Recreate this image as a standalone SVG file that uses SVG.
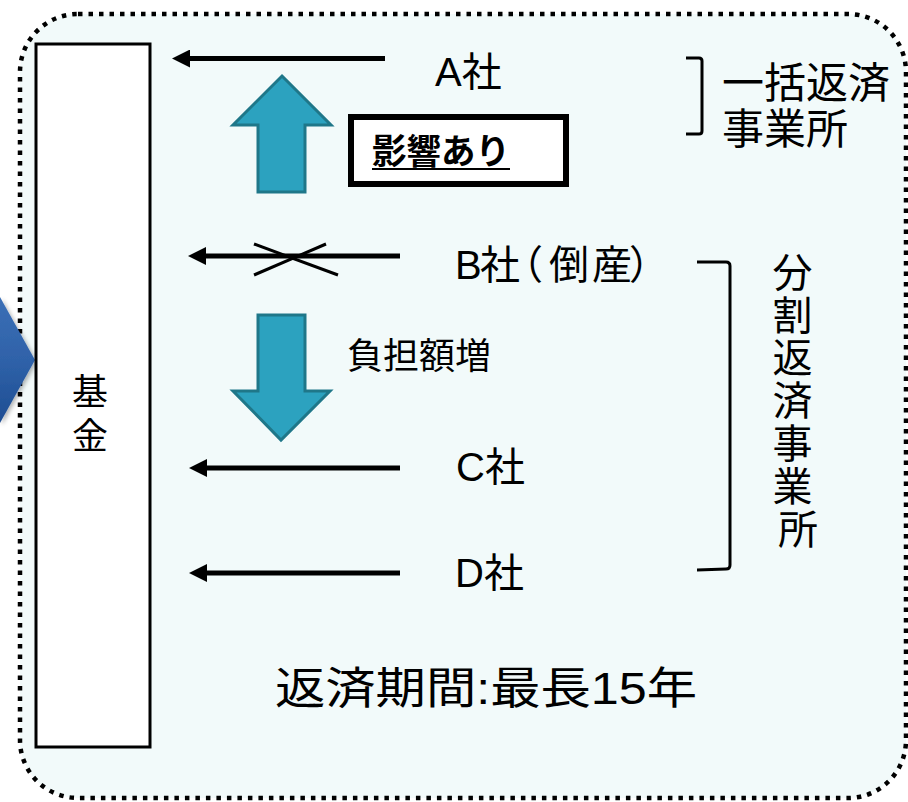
<svg xmlns="http://www.w3.org/2000/svg" width="908" height="802" viewBox="0 0 908 802">
  <style>
    .t { font-family: "Liberation Sans", "Noto Sans CJK JP", sans-serif; fill: #000; }
    .conn { stroke: #000; stroke-width: 5; fill: none; }
    .cross { stroke: #000; stroke-width: 3; fill: none; }
    .brk { stroke: #000; stroke-width: 3; fill: none; stroke-linejoin: round; }
    .teal { fill: #2ca2bf; stroke: #1f7789; stroke-width: 3; stroke-linejoin: miter; }
  </style>
  <defs>
    <marker id="ah" markerUnits="userSpaceOnUse" markerWidth="18" markerHeight="18" refX="8" refY="9" orient="auto">
      <path d="M0,0 L18,9 L0,18 Z" fill="#000"/>
    </marker>
    <linearGradient id="blueg" x1="0" y1="0" x2="0" y2="1">
      <stop offset="0" stop-color="#3b6fb6"/>
      <stop offset="0.5" stop-color="#2f62a9"/>
      <stop offset="1" stop-color="#1e4d92"/>
    </linearGradient>
    <filter id="sh" x="-50%" y="-50%" width="200%" height="200%">
      <feDropShadow dx="2" dy="2" stdDeviation="2" flood-color="#000" flood-opacity="0.3"/>
    </filter>
  </defs>

  <rect x="0" y="0" width="908" height="802" fill="#ffffff"/>

  <g id="frame">
    <rect x="20" y="14" width="886" height="784" rx="58" ry="58" fill="#f2fafa" stroke="#000" stroke-width="4.5" stroke-dasharray="4.5 6"/>
  </g>

  <g id="left-arrow">
    <polygon points="0,297 35,360 0,423" fill="url(#blueg)" filter="url(#sh)"/>
  </g>

  <g id="fund">
    <rect x="36" y="44" width="114" height="703" fill="#ffffff" stroke="#000" stroke-width="3"/>
    <text class="t" font-size="36" text-anchor="middle"><tspan x="90" y="405">基</tspan><tspan x="90" y="449">金</tspan></text>
  </g>

  <g id="connectors">
    <line class="conn" x1="385" y1="58.5" x2="182" y2="58.5" marker-end="url(#ah)"/>
    <line class="conn" x1="400" y1="256" x2="198" y2="256" marker-end="url(#ah)"/>
    <line class="cross" x1="254" y1="244" x2="338" y2="275"/>
    <line class="cross" x1="254" y1="275" x2="326" y2="244"/>
    <line class="conn" x1="400" y1="468" x2="199" y2="468" marker-end="url(#ah)"/>
    <line class="conn" x1="400" y1="573" x2="199" y2="573" marker-end="url(#ah)"/>
  </g>

  <g id="companyA">
    <text class="t" x="435" y="86" font-size="40">A社</text>
  </g>
  <g id="companyB">
    <text class="t" x="455 480 503 549 592 629" y="279" font-size="40">B社（倒産）</text>
  </g>
  <g id="companyC">
    <text class="t" x="456" y="481" font-size="40">C社</text>
  </g>
  <g id="companyD">
    <text class="t" x="455" y="587" font-size="40">D社</text>
  </g>

  <g id="up-arrow">
    <polygon class="teal" points="282,76 331,125 305,125 305,192 258,192 258,125 233,125"/>
  </g>

  <g id="impact">
    <rect x="351" y="117" width="215" height="67" fill="#ffffff" stroke="#000" stroke-width="6"/>
    <text class="t" x="372" y="164" font-size="35" font-weight="bold" textLength="138" lengthAdjust="spacingAndGlyphs">影響あり</text>
    <line x1="372" y1="169" x2="510" y2="169" stroke="#000" stroke-width="2"/>
  </g>

  <g id="down-arrow">
    <polygon class="teal" points="258,315 305,315 305,391 330,391 281,440 233,391 258,391"/>
  </g>

  <g id="burden">
    <text class="t" x="347" y="369" font-size="36">負担額増</text>
  </g>

  <g id="lump-sum">
    <path class="brk" d="M686,58 L699,58 Q702,58 702,61 L702,131 Q702,134 699,134 L686,134"/>
    <text class="t" font-size="42"><tspan x="722" y="98">一括返済</tspan><tspan x="722" y="144">事業所</tspan></text>
  </g>

  <g id="installment">
    <path class="brk" d="M697,262 L726,262 Q730,262 730,266 L730,565 Q730,569 726,569 L697,570"/>
    <text class="t" font-size="40" text-anchor="middle">
      <tspan x="798" y="287">分</tspan>
      <tspan x="798" y="330">割</tspan>
      <tspan x="798" y="372">返</tspan>
      <tspan x="798" y="415">済</tspan>
      <tspan x="798" y="458">事</tspan>
      <tspan x="798" y="501">業</tspan>
      <tspan x="798" y="544">所</tspan>
    </text>
  </g>

  <g id="period">
    <text class="t" x="275" y="704" font-size="44" textLength="422" lengthAdjust="spacingAndGlyphs">返済期間:最長15年</text>
  </g>
</svg>
